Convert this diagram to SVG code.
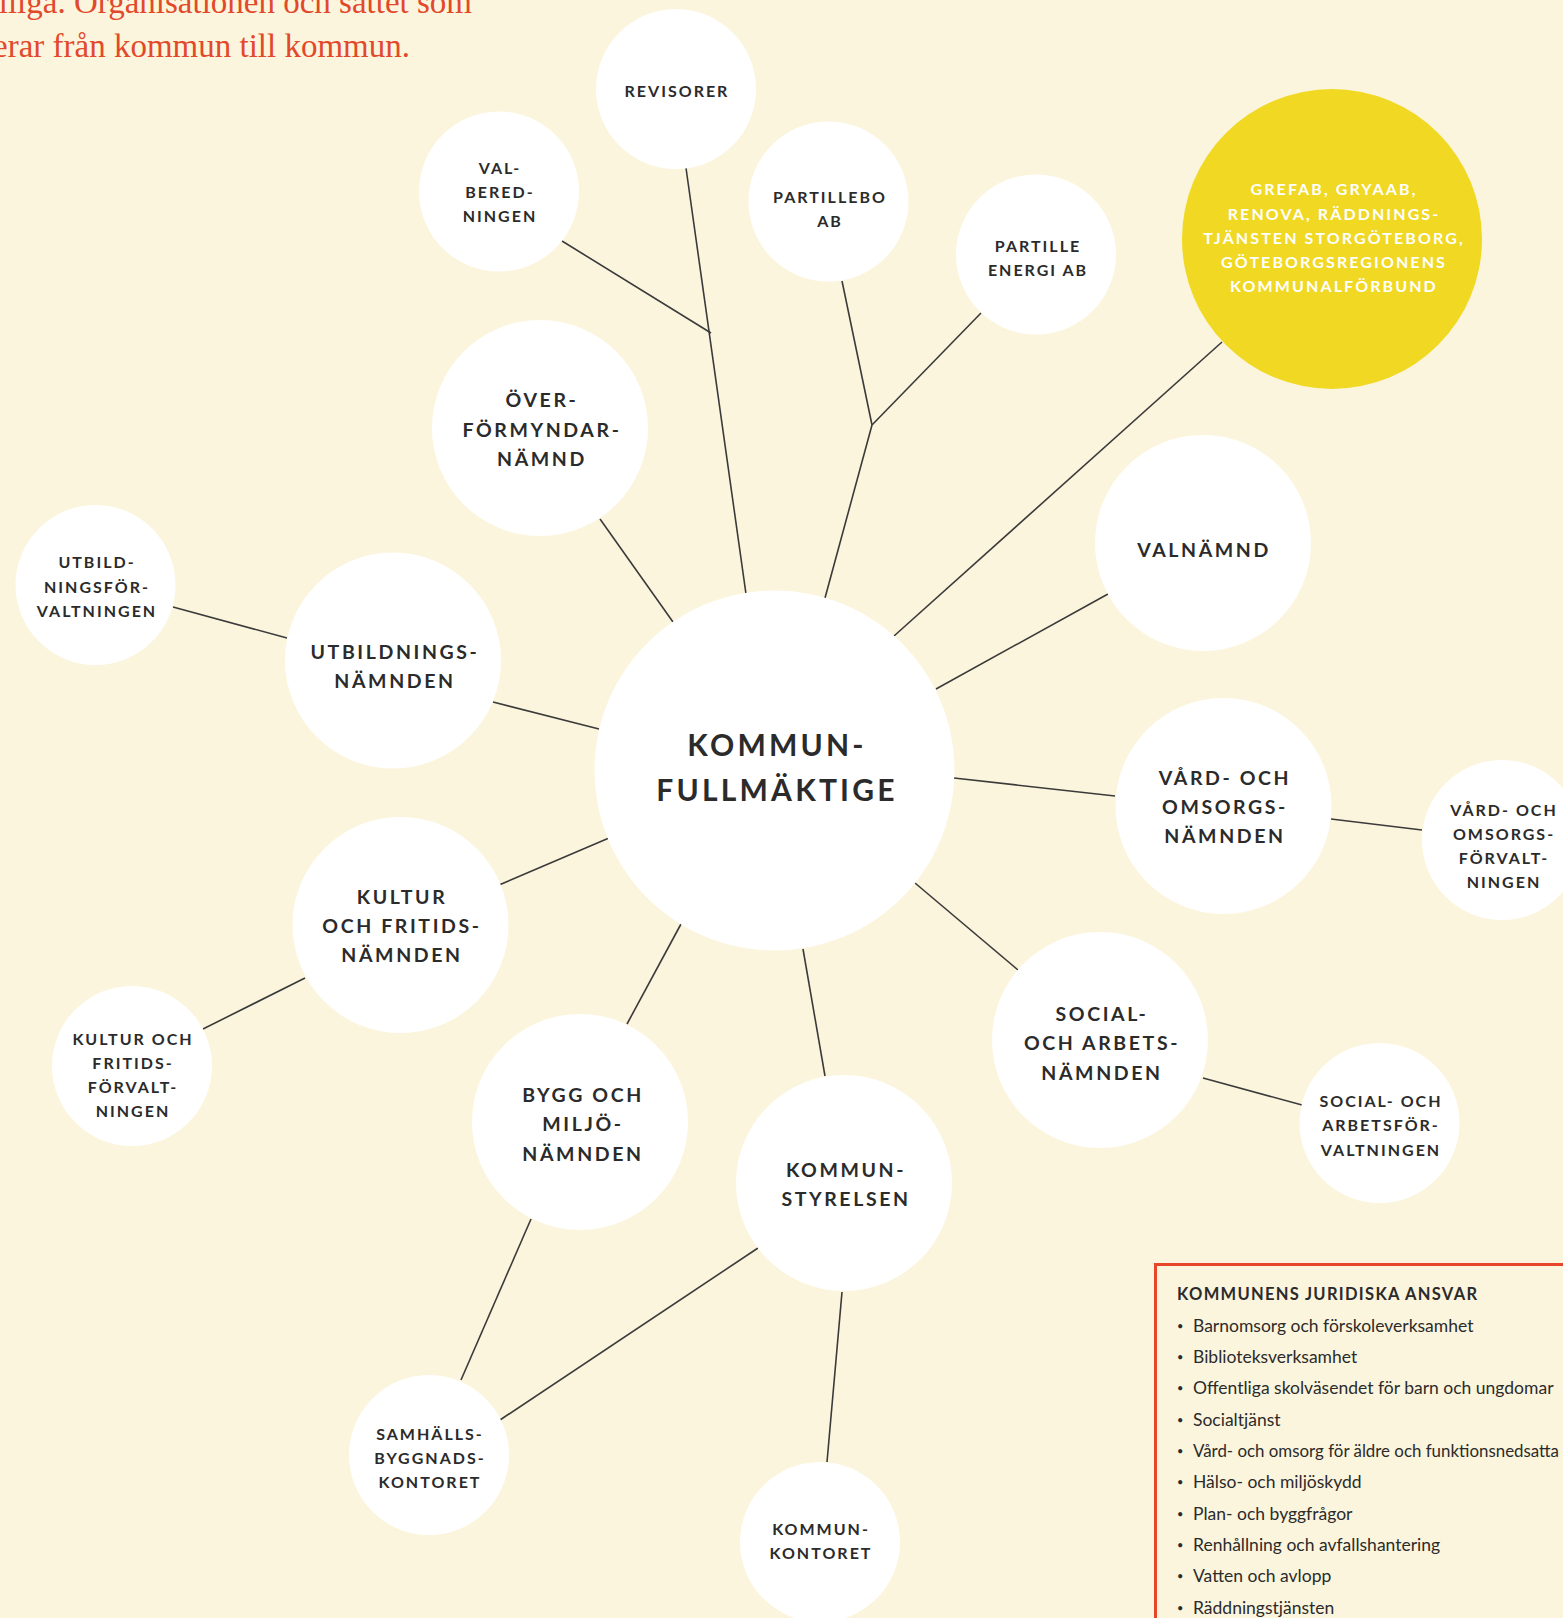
<svg xmlns="http://www.w3.org/2000/svg" width="1563" height="1618" viewBox="0 0 1563 1618">
<style>
.bg{fill:#fcf5dd}
.node{fill:#ffffff}
.yel{fill:#f0d823}
.lbl{font-family:Lato,"Open Sans","Liberation Sans",sans-serif;font-weight:700;fill:#2b2b2b;text-anchor:middle}
.s{font-size:16px;letter-spacing:2px}
.l{font-size:19.5px;letter-spacing:2.6px}
.kf{font-size:30px;letter-spacing:3.2px}
.yt{font-size:16px;letter-spacing:2.1px;fill:#ffffff}
.conn line{stroke:#3a3a3a;stroke-width:1.6;fill:none}
.intro{font-family:"Liberation Serif",serif;font-size:33px;fill:#e2492b;text-anchor:end}
.box{fill:none;stroke:#e8462a;stroke-width:3}
.bt{font-family:Lato,"Open Sans","Liberation Sans",sans-serif;font-weight:700;font-size:16.5px;letter-spacing:1.3px;fill:#2b2b2b}
.li{font-family:Lato,"Open Sans","Liberation Sans",sans-serif;font-size:17.5px;fill:#2b2b2b}
.bu{font-size:11px}
</style>
<rect class="bg" x="0" y="0" width="1563" height="1618"/>

<g id="intro-text">
<text class="intro" x="472" y="13">lliga. Organisationen och sättet som</text>
<text class="intro" x="410" y="57">erar från kommun till kommun.</text>
</g>

<g id="connectors" class="conn">
<line x1="686" y1="168" x2="746" y2="594"/>
<line x1="562" y1="241" x2="711" y2="333"/>
<line x1="842" y1="281" x2="872" y2="425"/>
<line x1="981" y1="313" x2="872" y2="425"/>
<line x1="872" y1="425" x2="825" y2="598"/>
<line x1="1222" y1="342" x2="894" y2="636"/>
<line x1="1108" y1="594" x2="936" y2="689"/>
<line x1="954" y1="778" x2="1115" y2="796"/>
<line x1="1331" y1="819" x2="1422" y2="830"/>
<line x1="915" y1="883" x2="1018" y2="970"/>
<line x1="1203" y1="1078" x2="1302" y2="1105"/>
<line x1="803" y1="949" x2="825" y2="1076"/>
<line x1="681" y1="924" x2="627" y2="1024"/>
<line x1="609" y1="838" x2="499" y2="885"/>
<line x1="305" y1="978" x2="203" y2="1029"/>
<line x1="599" y1="729" x2="493" y2="702"/>
<line x1="287" y1="638" x2="173" y2="607"/>
<line x1="600" y1="519" x2="673" y2="622"/>
<line x1="531" y1="1219" x2="461" y2="1380"/>
<line x1="758" y1="1248" x2="500" y2="1420"/>
<line x1="842" y1="1292" x2="827" y2="1462"/>
</g>

<g id="revisorer">
<circle class="node" cx="676" cy="89" r="80"/>
<text class="lbl s" x="677" y="97">REVISORER</text>
</g>
<g id="valberedningen">
<circle class="node" cx="499" cy="191.5" r="80"/>
<text class="lbl s" x="500" y="174">VAL-</text>
<text class="lbl s" x="500" y="198">BERED-</text>
<text class="lbl s" x="500" y="222">NINGEN</text>
</g>
<g id="partillebo">
<circle class="node" cx="828.5" cy="201.5" r="80"/>
<text class="lbl s" x="830" y="203">PARTILLEBO</text>
<text class="lbl s" x="830" y="227">AB</text>
</g>
<g id="partille-energi">
<circle class="node" cx="1036" cy="254.5" r="80"/>
<text class="lbl s" x="1038" y="252">PARTILLE</text>
<text class="lbl s" x="1038" y="276">ENERGI AB</text>
</g>
<g id="regionala">
<circle class="yel" cx="1332" cy="239" r="150"/>
<text class="lbl yt" x="1334" y="195">GREFAB, GRYAAB,</text>
<text class="lbl yt" x="1334" y="220">RENOVA, RÄDDNINGS-</text>
<text class="lbl yt" x="1334" y="244">TJÄNSTEN STORGÖTEBORG,</text>
<text class="lbl yt" x="1334" y="268">GÖTEBORGSREGIONENS</text>
<text class="lbl yt" x="1334" y="292">KOMMUNALFÖRBUND</text>
</g>
<g id="overformyndarnamnd">
<circle class="node" cx="540" cy="428" r="108"/>
<text class="lbl l" x="542" y="407">ÖVER-</text>
<text class="lbl l" x="542" y="437">FÖRMYNDAR-</text>
<text class="lbl l" x="542" y="466">NÄMND</text>
</g>
<g id="valnamnd">
<circle class="node" cx="1203" cy="543" r="108"/>
<text class="lbl l" x="1204" y="557">VALNÄMND</text>
</g>
<g id="utbildningsforvaltningen">
<circle class="node" cx="95.5" cy="585" r="80"/>
<text class="lbl s" x="97" y="568">UTBILD-</text>
<text class="lbl s" x="97" y="593">NINGSFÖR-</text>
<text class="lbl s" x="97" y="617">VALTNINGEN</text>
</g>
<g id="utbildningsnamnden">
<circle class="node" cx="393" cy="660.5" r="108"/>
<text class="lbl l" x="395" y="659">UTBILDNINGS-</text>
<text class="lbl l" x="395" y="688">NÄMNDEN</text>
</g>
<g id="kommunfullmaktige">
<circle class="node" cx="774.5" cy="770.5" r="180"/>
<text class="lbl kf" x="777" y="756">KOMMUN-</text>
<text class="lbl kf" x="777" y="801">FULLMÄKTIGE</text>
</g>
<g id="vard-omsorgsnamnden">
<circle class="node" cx="1223.5" cy="806" r="108"/>
<text class="lbl l" x="1225" y="785">VÅRD- OCH</text>
<text class="lbl l" x="1225" y="814">OMSORGS-</text>
<text class="lbl l" x="1225" y="843">NÄMNDEN</text>
</g>
<g id="vard-omsorgsforvaltningen">
<circle class="node" cx="1502" cy="840" r="80"/>
<text class="lbl s" x="1504" y="816">VÅRD- OCH</text>
<text class="lbl s" x="1504" y="840">OMSORGS-</text>
<text class="lbl s" x="1504" y="864">FÖRVALT-</text>
<text class="lbl s" x="1504" y="888">NINGEN</text>
</g>
<g id="kultur-fritidsnamnden">
<circle class="node" cx="400.5" cy="925" r="108"/>
<text class="lbl l" x="402" y="904">KULTUR</text>
<text class="lbl l" x="402" y="933">OCH FRITIDS-</text>
<text class="lbl l" x="402" y="962">NÄMNDEN</text>
</g>
<g id="kultur-fritidsforvaltningen">
<circle class="node" cx="132" cy="1066" r="80"/>
<text class="lbl s" x="133" y="1045">KULTUR OCH</text>
<text class="lbl s" x="133" y="1069">FRITIDS-</text>
<text class="lbl s" x="133" y="1093">FÖRVALT-</text>
<text class="lbl s" x="133" y="1117">NINGEN</text>
</g>
<g id="social-arbetsnamnden">
<circle class="node" cx="1100" cy="1040" r="108"/>
<text class="lbl l" x="1102" y="1021">SOCIAL-</text>
<text class="lbl l" x="1102" y="1050">OCH ARBETS-</text>
<text class="lbl l" x="1102" y="1080">NÄMNDEN</text>
</g>
<g id="social-arbetsforvaltningen">
<circle class="node" cx="1379.5" cy="1123" r="80"/>
<text class="lbl s" x="1381" y="1107">SOCIAL- OCH</text>
<text class="lbl s" x="1381" y="1131">ARBETSFÖR-</text>
<text class="lbl s" x="1381" y="1156">VALTNINGEN</text>
</g>
<g id="bygg-miljonamnden">
<circle class="node" cx="580" cy="1122" r="108"/>
<text class="lbl l" x="583" y="1102">BYGG OCH</text>
<text class="lbl l" x="583" y="1131">MILJÖ-</text>
<text class="lbl l" x="583" y="1161">NÄMNDEN</text>
</g>
<g id="kommunstyrelsen">
<circle class="node" cx="844" cy="1183" r="108"/>
<text class="lbl l" x="846" y="1177">KOMMUN-</text>
<text class="lbl l" x="846" y="1206">STYRELSEN</text>
</g>
<g id="samhallsbyggnadskontoret">
<circle class="node" cx="429" cy="1455" r="80"/>
<text class="lbl s" x="430" y="1440">SAMHÄLLS-</text>
<text class="lbl s" x="430" y="1464">BYGGNADS-</text>
<text class="lbl s" x="430" y="1488">KONTORET</text>
</g>
<g id="kommunkontoret">
<circle class="node" cx="820" cy="1542" r="80"/>
<text class="lbl s" x="821" y="1535">KOMMUN-</text>
<text class="lbl s" x="821" y="1559">KONTORET</text>
</g>

<g id="juridiska-ansvar">
<rect class="box" x="1155.5" y="1264.5" width="420" height="370"/>
<text class="bt" x="1177" y="1300">KOMMUNENS JURIDISKA ANSVAR</text>
<text class="li" x="1177" y="1330"><tspan class="bu">•</tspan><tspan x="1193" y="1332">Barnomsorg och förskoleverksamhet</tspan></text>
<text class="li" x="1177" y="1361"><tspan class="bu">•</tspan><tspan x="1193" y="1363">Biblioteksverksamhet</tspan></text>
<text class="li" x="1177" y="1392"><tspan class="bu">•</tspan><tspan x="1193" y="1394">Offentliga skolväsendet för barn och ungdomar</tspan></text>
<text class="li" x="1177" y="1424"><tspan class="bu">•</tspan><tspan x="1193" y="1426">Socialtjänst</tspan></text>
<text class="li" x="1177" y="1455"><tspan class="bu">•</tspan><tspan x="1193" y="1457" textLength="366" lengthAdjust="spacingAndGlyphs">Vård- och omsorg för äldre och funktionsnedsatta</tspan></text>
<text class="li" x="1177" y="1486"><tspan class="bu">•</tspan><tspan x="1193" y="1488">Hälso- och miljöskydd</tspan></text>
<text class="li" x="1177" y="1518"><tspan class="bu">•</tspan><tspan x="1193" y="1520">Plan- och byggfrågor</tspan></text>
<text class="li" x="1177" y="1549"><tspan class="bu">•</tspan><tspan x="1193" y="1551">Renhållning och avfallshantering</tspan></text>
<text class="li" x="1177" y="1580"><tspan class="bu">•</tspan><tspan x="1193" y="1582">Vatten och avlopp</tspan></text>
<text class="li" x="1177" y="1612"><tspan class="bu">•</tspan><tspan x="1193" y="1614">Räddningstjänsten</tspan></text>
</g>
</svg>
